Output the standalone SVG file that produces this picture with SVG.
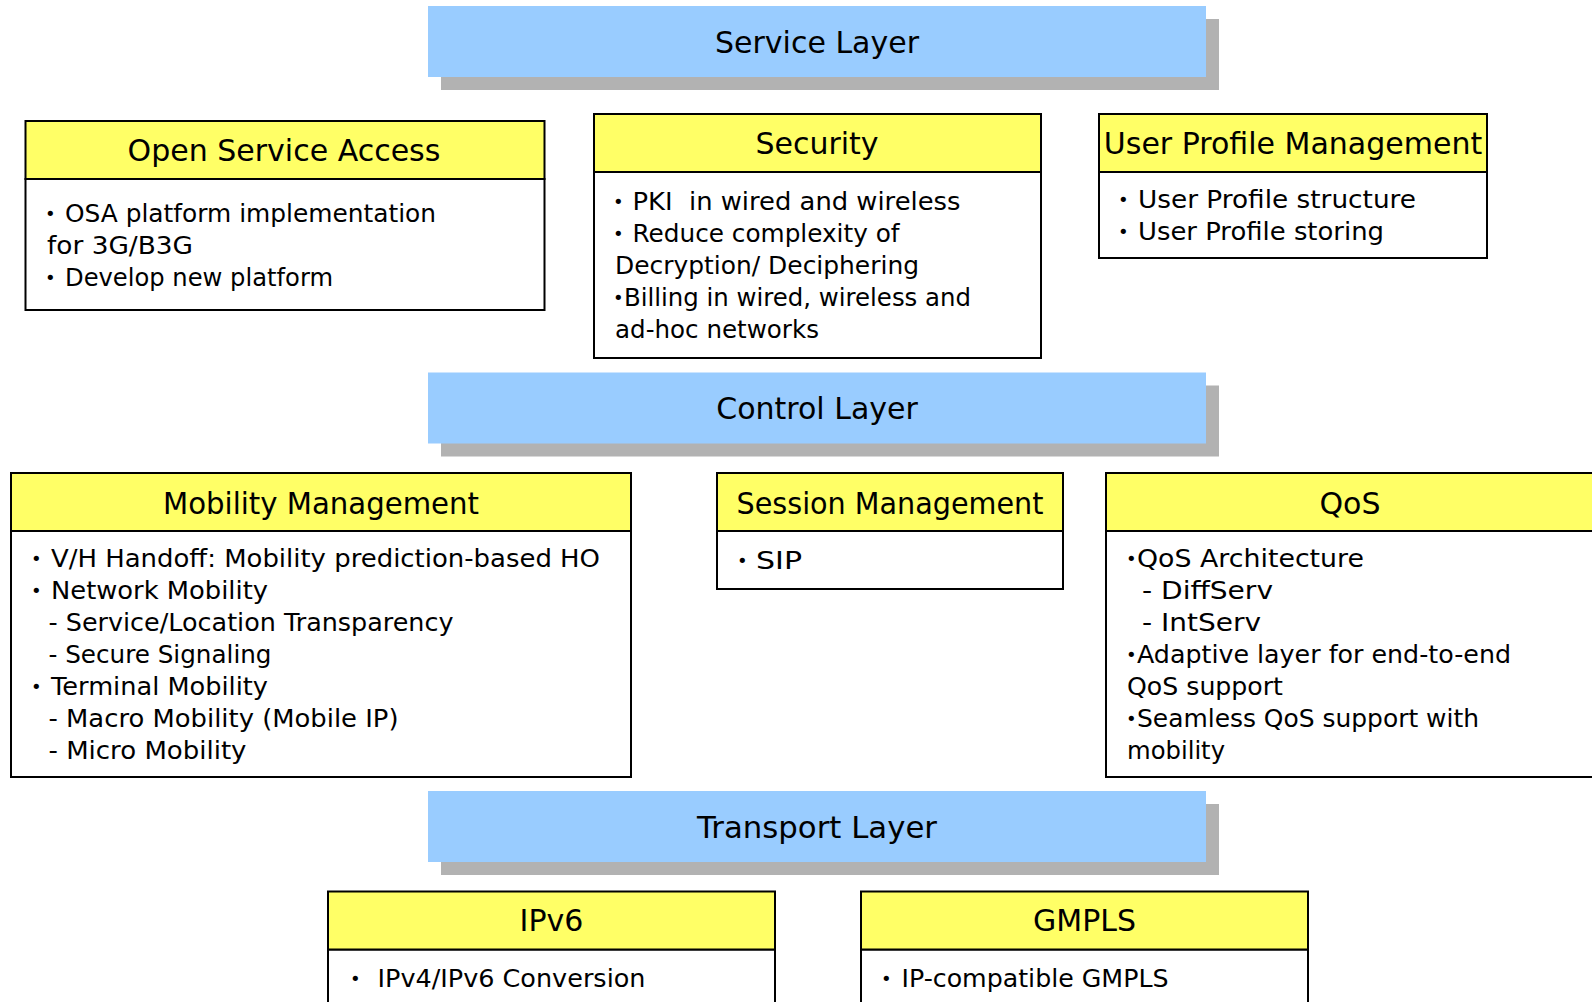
<svg xmlns="http://www.w3.org/2000/svg" width="1592" height="1002" viewBox="0 0 1592 1002">
  <style>
    .layer { fill: #99CCFF; }
    .shadow { fill: #B2B2B2; }
    .hdr { fill: #FFFF66; stroke: #000; stroke-width: 2; }
    .box { fill: #FFFFFF; stroke: #000; stroke-width: 2; }
    text { font-family: "DejaVu Sans", "Liberation Sans", sans-serif; fill: #000; }
    .lt { font-size: 30px; text-anchor: middle; }
    .tt { font-size: 30px; text-anchor: middle; }
    .b { font-size: 25px; }
    .dot { font-size: 18px; }
  </style>
  <rect width="1592" height="1002" fill="#FFFFFF"/>

  <!-- Service layer band -->
  <g id="service-layer">
    <rect class="shadow" x="441" y="19" width="778" height="71"/>
    <rect class="layer" x="428" y="6" width="778" height="71"/>
    <text class="lt" x="817" y="53">Service Layer</text>
  </g>

  <g id="open-service-access">
    <rect class="box" x="25.5" y="179" width="519" height="131"/>
    <rect class="hdr" x="25.5" y="121" width="519" height="58"/>
    <text class="tt" x="284" y="161">Open Service Access</text>
    <text class="dot" x="45" y="220">•</text>
    <text class="b" x="65" y="222" textLength="371" lengthAdjust="spacingAndGlyphs">OSA platform implementation</text>
    <text class="b" x="47" y="254" textLength="146" lengthAdjust="spacingAndGlyphs">for 3G/B3G</text>
    <text class="dot" x="45" y="284">•</text>
    <text class="b" x="65" y="286" textLength="268" lengthAdjust="spacingAndGlyphs">Develop new platform</text>
  </g>

  <g id="security">
    <rect class="box" x="594" y="172" width="447" height="186"/>
    <rect class="hdr" x="594" y="114" width="447" height="58"/>
    <text class="tt" x="817" y="154">Security</text>
    <text class="dot" x="613" y="208">•</text>
    <text class="b" x="632.5" y="210" textLength="328" lengthAdjust="spacingAndGlyphs">PKI&#160; in wired and wireless</text>
    <text class="dot" x="613" y="240">•</text>
    <text class="b" x="632.5" y="242" textLength="267" lengthAdjust="spacingAndGlyphs">Reduce complexity of</text>
    <text class="b" x="615" y="274" textLength="304" lengthAdjust="spacingAndGlyphs">Decryption/ Deciphering</text>
    <text class="dot" x="613" y="304">•</text>
    <text class="b" x="624" y="306" textLength="347" lengthAdjust="spacingAndGlyphs">Billing in wired, wireless and</text>
    <text class="b" x="615" y="338" textLength="204" lengthAdjust="spacingAndGlyphs">ad-hoc networks</text>
  </g>

  <g id="user-profile-management">
    <rect class="box" x="1099" y="172" width="388" height="86"/>
    <rect class="hdr" x="1099" y="114" width="388" height="58"/>
    <text class="tt" x="1293" y="154">User Profile Management</text>
    <text class="dot" x="1118" y="206">•</text>
    <text class="b" x="1138" y="208" textLength="278" lengthAdjust="spacingAndGlyphs">User Profile structure</text>
    <text class="dot" x="1118" y="238">•</text>
    <text class="b" x="1138" y="240" textLength="246" lengthAdjust="spacingAndGlyphs">User Profile storing</text>
  </g>

  <!-- Control layer band -->
  <g id="control-layer">
    <rect class="shadow" x="441" y="385.5" width="778" height="71"/>
    <rect class="layer" x="428" y="372.5" width="778" height="71"/>
    <text class="lt" x="817" y="419">Control Layer</text>
  </g>

  <g id="mobility-management">
    <rect class="box" x="11" y="531" width="620" height="246"/>
    <rect class="hdr" x="11" y="473" width="620" height="58"/>
    <text class="tt" x="321" y="514" textLength="316" lengthAdjust="spacingAndGlyphs">Mobility Management</text>
    <text class="dot" x="31" y="565">•</text>
    <text class="b" x="51" y="567" textLength="549" lengthAdjust="spacingAndGlyphs">V/H Handoff: Mobility prediction-based HO</text>
    <text class="dot" x="31" y="597">•</text>
    <text class="b" x="51" y="599" textLength="217" lengthAdjust="spacingAndGlyphs">Network Mobility</text>
    <text class="b" x="48.5" y="631" textLength="405" lengthAdjust="spacingAndGlyphs">- Service/Location Transparency</text>
    <text class="b" x="48.5" y="663" textLength="223" lengthAdjust="spacingAndGlyphs">- Secure Signaling</text>
    <text class="dot" x="31" y="693">•</text>
    <text class="b" x="51" y="695" textLength="217" lengthAdjust="spacingAndGlyphs">Terminal Mobility</text>
    <text class="b" x="48.5" y="727" textLength="350" lengthAdjust="spacingAndGlyphs">- Macro Mobility (Mobile IP)</text>
    <text class="b" x="48.5" y="759" textLength="198" lengthAdjust="spacingAndGlyphs">- Micro Mobility</text>
  </g>

  <g id="session-management">
    <rect class="box" x="717" y="531" width="346" height="58"/>
    <rect class="hdr" x="717" y="473" width="346" height="58"/>
    <text class="tt" x="890" y="514" textLength="307" lengthAdjust="spacingAndGlyphs">Session Management</text>
    <text class="dot" x="737" y="567">•</text>
    <text class="b" x="756" y="569" textLength="46" lengthAdjust="spacingAndGlyphs">SIP</text>
  </g>

  <g id="qos">
    <rect class="box" x="1106" y="531" width="492" height="246"/>
    <rect class="hdr" x="1106" y="473" width="492" height="58"/>
    <text class="tt" x="1350" y="514">QoS</text>
    <text class="dot" x="1126" y="565">•</text>
    <text class="b" x="1137" y="567" textLength="227" lengthAdjust="spacingAndGlyphs">QoS Architecture</text>
    <text class="b" x="1142" y="599" textLength="131" lengthAdjust="spacingAndGlyphs">- DiffServ</text>
    <text class="b" x="1142" y="631" textLength="119" lengthAdjust="spacingAndGlyphs">- IntServ</text>
    <text class="dot" x="1126" y="661">•</text>
    <text class="b" x="1137" y="663" textLength="374" lengthAdjust="spacingAndGlyphs">Adaptive layer for end-to-end</text>
    <text class="b" x="1127" y="695" textLength="156" lengthAdjust="spacingAndGlyphs">QoS support</text>
    <text class="dot" x="1126" y="725">•</text>
    <text class="b" x="1137" y="727" textLength="342" lengthAdjust="spacingAndGlyphs">Seamless QoS support with</text>
    <text class="b" x="1127" y="759" textLength="98" lengthAdjust="spacingAndGlyphs">mobility</text>
  </g>

  <!-- Transport layer band -->
  <g id="transport-layer">
    <rect class="shadow" x="441" y="804" width="778" height="71"/>
    <rect class="layer" x="428" y="791" width="778" height="71"/>
    <text class="lt" x="817" y="838" textLength="240" lengthAdjust="spacingAndGlyphs">Transport Layer</text>
  </g>

  <g id="ipv6">
    <rect class="box" x="328" y="949.5" width="447" height="62"/>
    <rect class="hdr" x="328" y="891.5" width="447" height="58"/>
    <text class="tt" x="551.5" y="931">IPv6</text>
    <text class="dot" x="350" y="985">•</text>
    <text class="b" x="377.5" y="987" textLength="268" lengthAdjust="spacingAndGlyphs">IPv4/IPv6 Conversion</text>
  </g>

  <g id="gmpls">
    <rect class="box" x="861" y="949.5" width="447" height="62"/>
    <rect class="hdr" x="861" y="891.5" width="447" height="58"/>
    <text class="tt" x="1084.5" y="931">GMPLS</text>
    <text class="dot" x="881" y="985">•</text>
    <text class="b" x="901.5" y="987" textLength="267" lengthAdjust="spacingAndGlyphs">IP-compatible GMPLS</text>
  </g>
</svg>
